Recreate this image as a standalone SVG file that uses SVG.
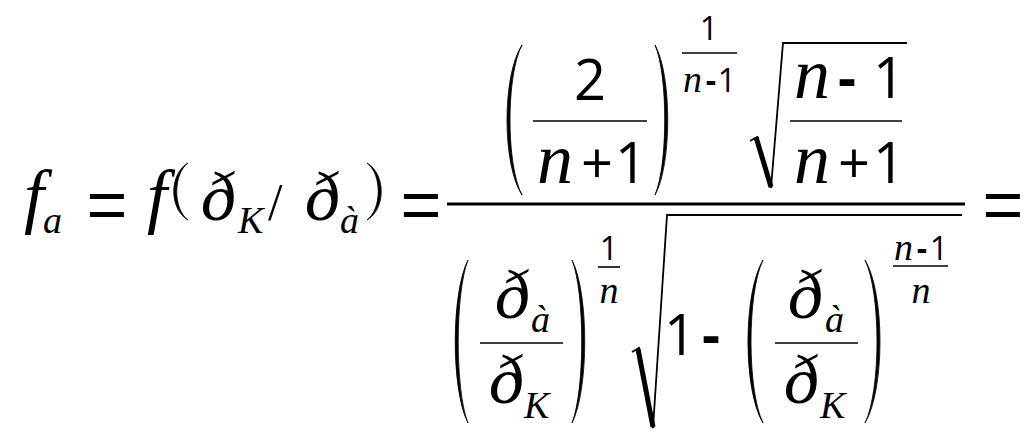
<svg xmlns="http://www.w3.org/2000/svg" width="1024" height="443" viewBox="0 0 1024 443">
<style>
.i{font-family:"Liberation Serif",serif;font-style:italic;fill:#000}
.u{font-family:"Open Sans","Liberation Sans",sans-serif;fill:#000}
.eq{font-family:"Liberation Sans",sans-serif;font-size:70px;fill:#000}
.s{font-family:"Liberation Serif",serif;fill:#000}
.L{font-size:72px}
.G{font-size:70px}
.S{font-size:38px}
.D{font-size:56px}
.E{font-size:32px}
.h{font-weight:700}
.bar{stroke:#000;stroke-width:1.6;fill:none}
.mbar{stroke:#000;stroke-width:3;fill:none}
.rad{stroke:#000;stroke-width:1.8;fill:none;stroke-linejoin:miter}
.radk{stroke:#000;stroke-width:5;fill:none}
.p{fill:#000;stroke:#000;stroke-width:0.8}
</style>
<rect width="1024" height="443" fill="#fff"/>
<g id="lhs">
<text class="i L" x="24" y="220">f</text>
<text class="i S" x="43" y="233">a</text>
<text class="eq" x="107" y="229" text-anchor="middle">=</text>
<text class="i L" x="147" y="220">f</text>
<path class="p" d="M188,163 C169,174 169,209 188,220 C173,209 173,174 188,163 Z"/>
<text class="i G" x="201" y="220">ð</text>
<text class="i S" x="238" y="233">K</text>
<text class="s" x="268" y="220" font-size="52">/</text>
<text class="i G" x="305" y="220">ð</text>
<text class="i S" x="340" y="233">à</text>
<path class="p" d="M367,163 C386,174 386,209 367,220 C382,209 382,174 367,163 Z"/>
<text class="eq" x="421" y="229" text-anchor="middle">=</text>
</g>
<g id="fraction">
<line class="mbar" x1="447" y1="204" x2="965" y2="204"/>
</g>
<g id="numerator">
<path class="p" d="M522,45 C502,75 502,165 522,195 C506,165 506,75 522,45 Z"/>
<text class="u D" x="590" y="100" text-anchor="middle">2</text>
<line class="bar" x1="533" y1="121" x2="647" y2="121"/>
<text class="i L" x="537" y="183">n</text>
<text class="u D" x="597" y="183" text-anchor="middle">+</text>
<text class="u D" x="631" y="183" text-anchor="middle">1</text>
<path class="p" d="M655,45 C672,75 672,165 655,195 C668,165 668,75 655,45 Z"/>
<text class="u E" x="709" y="40" text-anchor="middle">1</text>
<line class="bar" x1="682" y1="53" x2="737" y2="53"/>
<text class="i S" x="683" y="92">n</text>
<text class="u E h" x="711" y="92" text-anchor="middle">-</text>
<text class="u E" x="727" y="92" text-anchor="middle">1</text>
<line class="radk" x1="756" y1="137" x2="771" y2="187"/>
<polyline class="rad" points="750,141 757,137 771,188 783,43 907,43"/>
<text class="i L" x="794" y="98">n</text>
<text class="u D h" x="847" y="98" text-anchor="middle">-</text>
<text class="u D" x="889" y="98" text-anchor="middle">1</text>
<line class="bar" x1="790" y1="121" x2="902" y2="121"/>
<text class="i L" x="794" y="183">n</text>
<text class="u D" x="854" y="183" text-anchor="middle">+</text>
<text class="u D" x="889" y="183" text-anchor="middle">1</text>
</g>
<g id="denominator">
<path class="p" d="M468,260 C451,293 451,390 468,423 C455,390 455,293 468,260 Z"/>
<text class="i G" x="495" y="318">ð</text>
<text class="i S" x="531" y="332">à</text>
<line class="bar" x1="480" y1="343" x2="563" y2="343"/>
<text class="i G" x="489" y="403">ð</text>
<text class="i S" x="524" y="418">K</text>
<path class="p" d="M572,260 C589,293 589,390 572,423 C585,390 585,293 572,260 Z"/>
<text class="u E" x="609" y="260" text-anchor="middle">1</text>
<line class="bar" x1="598" y1="267" x2="620" y2="267"/>
<text class="i S" x="609" y="303" text-anchor="middle">n</text>
<line class="radk" x1="638" y1="349" x2="653" y2="427"/>
<polyline class="rad" points="632,352 639,348 653,428 667,215 962,215"/>
<text class="u D" x="680" y="355" text-anchor="middle">1</text>
<text class="u D h" x="711" y="355" text-anchor="middle">-</text>
<path class="p" d="M763,260 C743,293 743,390 763,423 C747,390 747,293 763,260 Z"/>
<text class="i G" x="788" y="318">ð</text>
<text class="i S" x="825" y="332">à</text>
<line class="bar" x1="775" y1="343" x2="858" y2="343"/>
<text class="i G" x="784" y="403">ð</text>
<text class="i S" x="820" y="418">K</text>
<path class="p" d="M865,260 C885,293 885,390 865,423 C881,390 881,293 865,260 Z"/>
<text class="i S" x="894" y="260">n</text>
<text class="u E h" x="922" y="260" text-anchor="middle">-</text>
<text class="u E" x="939" y="260" text-anchor="middle">1</text>
<line class="bar" x1="893" y1="266" x2="948" y2="266"/>
<text class="i S" x="921" y="303" text-anchor="middle">n</text>
</g>
<g id="rhs">
<text class="eq" x="1003" y="229" text-anchor="middle">=</text>
</g>
</svg>
